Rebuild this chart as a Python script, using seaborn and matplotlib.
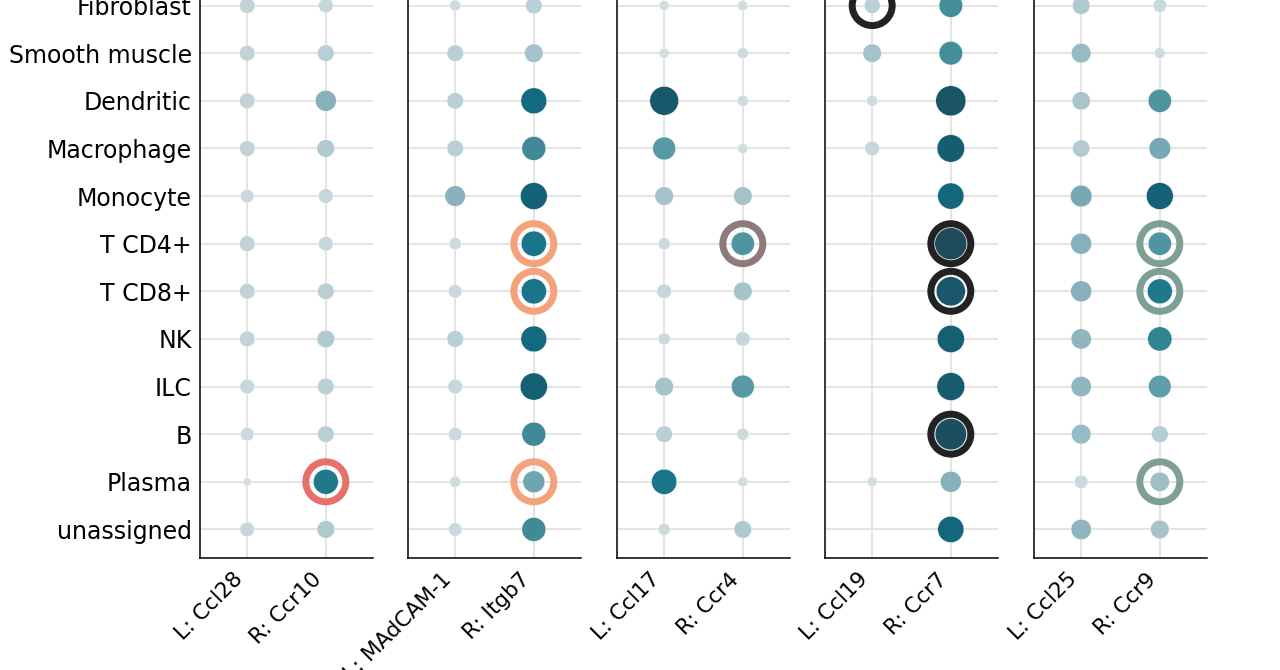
import matplotlib
matplotlib.use("Agg")
import matplotlib.pyplot as plt
import matplotlib.colors as mcolors
import numpy as np
import pandas as pd
import seaborn as sns

# rows (top to bottom)
cell_types = ["Fibroblast", "Smooth muscle", "Dendritic", "Macrophage", "Monocyte",
              "T CD4+", "T CD8+", "NK", "ILC", "B", "Plasma", "unassigned"]

# ligand / receptor pairs, one panel each
panel_genes = [("L: Ccl28", "R: Ccr10"),
               ("L: MAdCAM-1", "R: Itgb7"),
               ("L: Ccl17", "R: Ccr4"),
               ("L: Ccl19", "R: Ccr7"),
               ("L: Ccl25", "R: Ccr9")]

# scaled expression per cell type (nan = not detected)
ccl28 = [0.44, 0.44, 0.44, 0.44, 0.38, 0.44, 0.44, 0.44, 0.41, 0.38, 0.22, 0.41]
ccr10 = [0.41, 0.47, 0.60, 0.50, 0.41, 0.41, 0.47, 0.50, 0.47, 0.47, 0.72, 0.50]
madcam1 = [0.31, 0.47, 0.47, 0.47, 0.59, 0.34, 0.38, 0.47, 0.41, 0.38, 0.31, 0.38]
itgb7 = [0.47, 0.53, 0.75, 0.69, 0.78, 0.73, 0.73, 0.75, 0.79, 0.69, 0.63, 0.69]
ccl17 = [0.28, 0.28, 0.84, 0.66, 0.53, 0.34, 0.41, 0.34, 0.53, 0.47, 0.73, 0.34]
ccr4 = [0.28, 0.31, 0.31, 0.28, 0.53, 0.67, 0.53, 0.41, 0.66, 0.34, 0.28, 0.50]
ccl19 = [0.45, 0.53, 0.31, 0.41, np.nan, np.nan, np.nan, np.nan, np.nan, np.nan, 0.28, np.nan]
ccr7 = [0.68, 0.68, 0.88, 0.80, 0.76, 0.94, 0.85, 0.79, 0.81, 0.92, 0.60, 0.76]
ccl25 = [0.50, 0.56, 0.52, 0.49, 0.62, 0.60, 0.60, 0.58, 0.58, 0.56, 0.38, 0.58]
ccr9 = [0.38, 0.30, 0.67, 0.62, 0.78, 0.67, 0.72, 0.70, 0.65, 0.48, 0.55, 0.53]

scores = {"L: Ccl28": ccl28, "R: Ccr10": ccr10,
          "L: MAdCAM-1": madcam1, "R: Itgb7": itgb7,
          "L: Ccl17": ccl17, "R: Ccr4": ccr4,
          "L: Ccl19": ccl19, "R: Ccr7": ccr7,
          "L: Ccl25": ccl25, "R: Ccr9": ccr9}

# highlighted interactions (ring around the dot)
ring_genes = ["R: Ccr10", "R: Itgb7", "R: Itgb7", "R: Itgb7", "R: Ccr4",
              "L: Ccl19", "R: Ccr7", "R: Ccr7", "R: Ccr7",
              "R: Ccr9", "R: Ccr9", "R: Ccr9"]
ring_cells = ["Plasma", "T CD4+", "T CD8+", "Plasma", "T CD4+",
              "Fibroblast", "T CD4+", "T CD8+", "B",
              "T CD4+", "T CD8+", "Plasma"]
ring_colors = ["#e8706a", "#f4a27c", "#f4a27c", "#f4a27c", "#8c7b7a",
               "#222222", "#222222", "#222222", "#222222",
               "#7d9f95", "#7d9f95", "#7d9f95"]

cmap = mcolors.LinearSegmentedColormap.from_list("expr", [
    (0.00, "#d6e0e3"), (0.25, "#d3dee1"), (0.40, "#c8d8dc"), (0.47, "#b8cfd5"),
    (0.53, "#a5c3cb"), (0.60, "#86b0bb"), (0.65, "#5f9ea8"), (0.69, "#3f8a96"),
    (0.72, "#1f7a8c"), (0.75, "#136a80"), (0.80, "#155d71"), (0.88, "#1b5466"),
    (0.95, "#1d4a5a"), (1.00, "#1d4858")])


def main():
    sns.set_style("white")
    plt.rcParams["font.family"] = ["DejaVu Sans"]
    plt.rcParams["text.color"] = "black"
    plt.rcParams["xtick.color"] = "black"
    plt.rcParams["ytick.color"] = "black"

    rows = []
    for p, genes in enumerate(panel_genes):
        for gi, g in enumerate(genes):
            for ci, c in enumerate(cell_types):
                rows.append({"panel": p, "gene": g, "cell": c,
                             "xpos": gi, "ypos": ci, "score": scores[g][ci]})
    df = pd.DataFrame(rows).dropna(subset=["score"])

    rings = pd.DataFrame({"gene": ring_genes, "cell": ring_cells, "color": ring_colors})

    fig = plt.figure(figsize=(12.8, 6.7), dpi=100)
    lefts = [200, 408, 617, 825, 1034]
    for p, genes in enumerate(panel_genes):
        ax = fig.add_axes([lefts[p] / 1280, 112 / 670, 173 / 1280, 581 / 670])
        sub = df[df["panel"] == p]
        sns.scatterplot(data=sub, x="xpos", y="ypos", hue="score", size="score",
                        palette=cmap, hue_norm=(0, 1),
                        sizes=(0, 600), size_norm=mcolors.PowerNorm(1.9, vmin=0, vmax=1),
                        edgecolor="white", linewidth=0.3, legend=False, ax=ax, zorder=3)

        r = rings[rings["gene"].isin(genes)]
        rx = [list(genes).index(g) for g in r["gene"]]
        ry = [cell_types.index(c) for c in r["cell"]]
        ax.scatter(rx, ry, s=829, facecolors="none", edgecolors=r["color"].tolist(),
                   linewidths=5, zorder=4)

        ax.set_xlim(-0.6, 1.6)
        ax.set_ylim(len(cell_types) - 0.4, -0.6)
        ax.set_xticks([0, 1])
        ax.set_xticklabels(genes, rotation=45, ha="right", fontsize=15.5)
        ax.set_yticks(range(len(cell_types)))
        if p == 0:
            ax.set_yticklabels(cell_types, fontsize=17)
            ax.tick_params(axis="y", length=5, width=1, color="black", pad=1)
        else:
            ax.set_yticklabels([])
            ax.tick_params(axis="y", length=0)
        ax.tick_params(axis="x", length=5, width=1, color="black", pad=3)
        ax.grid(True, color="#dddddd", linewidth=1.1)
        ax.set_axisbelow(True)
        ax.set_xlabel("")
        ax.set_ylabel("")
        for side in ["top", "right"]:
            ax.spines[side].set_visible(False)
        for side in ["left", "bottom"]:
            ax.spines[side].set_color("black")
            ax.spines[side].set_linewidth(1.1)

    fig.savefig("out.png", dpi=100)


if __name__ == "__main__":
    main()
